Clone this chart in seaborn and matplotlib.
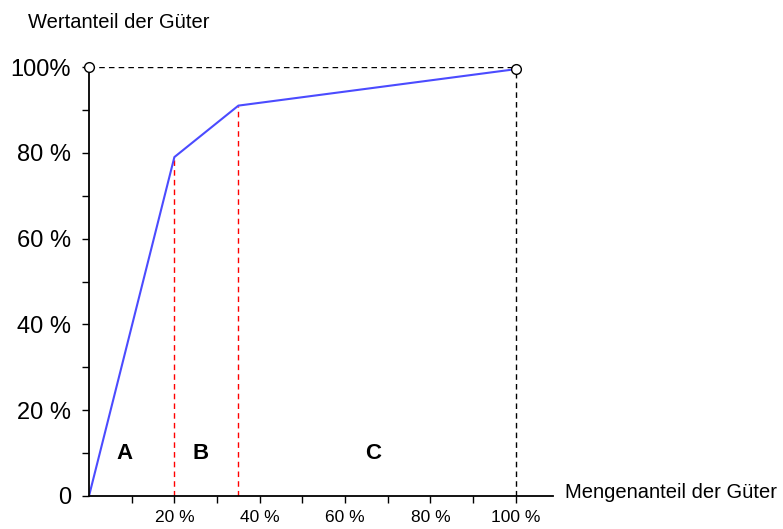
import matplotlib
matplotlib.use('Agg')
import matplotlib.pyplot as plt
import seaborn as sns
import pandas as pd

# ABC curve data
menge = [0, 20, 35, 100]
wert = [0, 79, 91, 99.5]
grenzen = [20, 35]
grenz_wert = [79, 91]
klassen = ['A', 'B', 'C']
klassen_x = [8.4, 26.2, 66.5]
y_ticks = [0, 20, 40, 60, 80, 100]
y_labels = ['0', '20 %', '40 %', '60 %', '80 %', '100%']
x_ticks = [20, 40, 60, 80, 100]
x_labels = ['20 %', '40 %', '60 %', '80 %', '100 %']

df = pd.DataFrame({'Menge': menge, 'Wert': wert})

sns.set_style('ticks')
plt.rcParams['font.family'] = ['Liberation Sans Narrow', 'Liberation Sans', 'DejaVu Sans']
plt.rcParams['text.color'] = 'black'
plt.rcParams['xtick.color'] = 'black'
plt.rcParams['ytick.color'] = 'black'

fig = plt.figure(figsize=(7.83, 5.29), dpi=100)
ax = fig.add_axes([89 / 783, 33 / 529, 464 / 783, 429 / 529])

# guide lines
ax.plot([0, 100], [100, 100], color='black', lw=1, ls=(0, (4, 3)), zorder=1)
ax.plot([100, 100], [0, 100], color='black', lw=1, ls=(0, (4, 3)), zorder=1)
for gx, gy in zip(grenzen, grenz_wert):
    ax.plot([gx, gx], [0, gy], color='red', lw=1, ls=(0, (4, 3)), zorder=1)

sns.lineplot(data=df, x='Menge', y='Wert', color='#4b4bff', lw=1.5, ax=ax, zorder=2)

ax.plot([0, 100], [100, wert[-1]], 'o', ms=7, mfc='white', mec='black', mew=1, zorder=3, clip_on=False)

for k, kx in zip(klassen, klassen_x):
    ax.text(kx, 10, k, fontsize=16, fontweight='bold', ha='center', va='center')

ax.set_xlim(0, 108.7)
ax.set_ylim(0, 100)
sns.despine(ax=ax)
ax.spines['left'].set_linewidth(1.3)
ax.spines['bottom'].set_linewidth(1.3)
ax.spines['left'].set_color('black')
ax.spines['bottom'].set_color('black')

ax.set_yticks(y_ticks)
ax.set_yticklabels(y_labels, fontsize=17)
ax.set_yticks(range(10, 100, 20), minor=True)
ax.set_xticks(x_ticks)
ax.set_xticklabels(x_labels, fontsize=12.5)
ax.set_xticks(range(10, 100, 20), minor=True)
ax.tick_params(axis='y', which='both', length=5, width=1, pad=8)
ax.tick_params(axis='x', which='both', length=5, width=1, pad=5)

ax.set_xlabel('')
ax.set_ylabel('')
fig.text(28 / 783, 1 - 22 / 529, 'Wertanteil der Güter', fontsize=14.5, ha='left', va='center')
fig.text(565 / 783, 1 - 493 / 529, 'Mengenanteil der Güter', fontsize=14.5, ha='left', va='center')

fig.savefig('out.png', dpi=100)
